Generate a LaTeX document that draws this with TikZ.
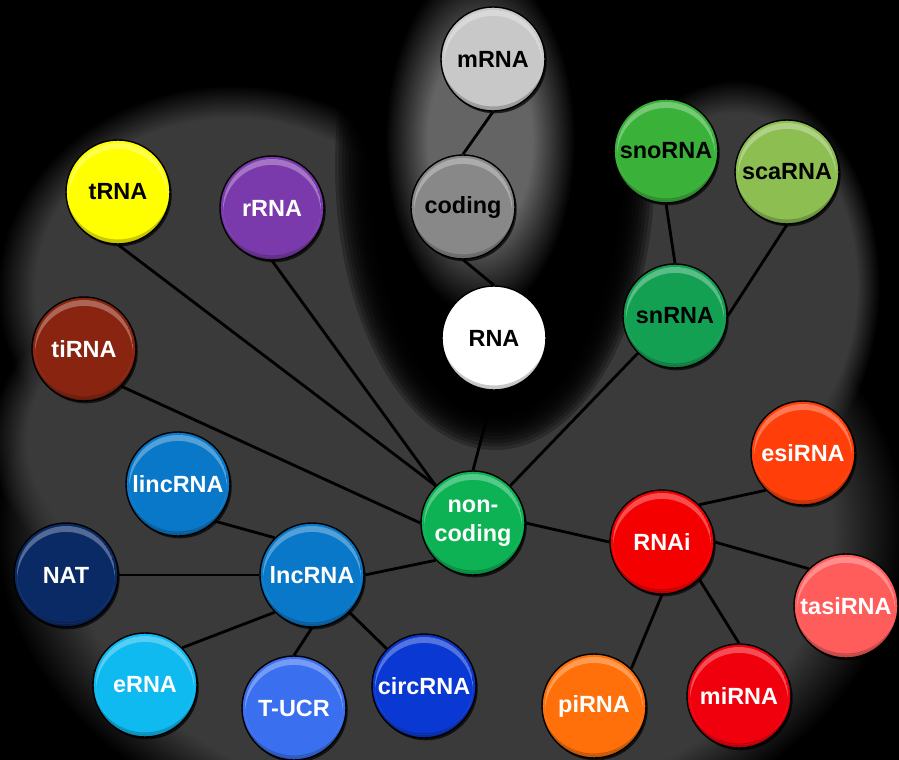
\documentclass[tikz,border=0pt]{standalone}
\usepackage{fontspec}
\setmainfont{Liberation Sans}
\usetikzlibrary{shadows,fadings,backgrounds}

% backdrop and ball colours
\definecolor{backdrop}{RGB}{58,58,58}
\definecolor{halo}{RGB}{100,100,100}
\definecolor{mrnagray}{RGB}{200,200,200}
\definecolor{codinggray}{RGB}{136,136,136}
\definecolor{snogreen}{RGB}{58,178,58}
\definecolor{scagreen}{RGB}{140,190,82}
\definecolor{sngreen}{RGB}{20,160,82}
\definecolor{ncgreen}{RGB}{12,178,84}
\definecolor{tyellow}{RGB}{255,255,0}
\definecolor{rpurple}{RGB}{122,58,172}
\definecolor{tibrown}{RGB}{136,36,16}
\definecolor{lncblue}{RGB}{10,120,200}
\definecolor{natblue}{RGB}{10,42,102}
\definecolor{eblue}{RGB}{14,186,240}
\definecolor{ucrblue}{RGB}{58,112,240}
\definecolor{circblue}{RGB}{10,56,210}
\definecolor{rnaired}{RGB}{245,0,0}
\definecolor{esiorange}{RGB}{255,62,10}
\definecolor{tasipink}{RGB}{255,92,92}
\definecolor{piorange}{RGB}{255,112,10}
\definecolor{mired}{RGB}{240,0,12}

% soft edges for the backdrop (white = opaque, black = clear)
\pgfdeclareradialshading{fuzzyshade}{\pgfpointorigin}{color(0pt)=(white); color(21pt)=(white); color(25pt)=(black); color(50pt)=(black)}
\pgfdeclarefading{fuzzy}{\pgfuseshading{fuzzyshade}}
\pgfdeclareradialshading{hazyshade}{\pgfpointorigin}{color(0pt)=(white); color(13.75pt)=(white); color(25pt)=(black); color(50pt)=(black)}
\pgfdeclarefading{hazy}{\pgfuseshading{hazyshade}}

\begin{document}
\begin{tikzpicture}[x=0.03cm,y=-0.03cm,
  ball/.style={circle,draw=black,line width=1.2pt,fill=#1,
    minimum size=3.12cm,inner sep=0pt,align=center,text=white,
    font=\fontsize{20}{25}\selectfont\bfseries,
    drop shadow={shadow xshift=1.5pt,shadow yshift=-2pt,fill=black,opacity=.7},
    path picture={
      \fill[black,opacity=.22,even odd rule]
        (path picture bounding box.center) circle (1.6cm)
        ([yshift=5pt]path picture bounding box.center) circle (1.6cm);
      \clip (path picture bounding box.center) circle (1.47cm);
      \fill[white,opacity=.3,even odd rule]
        (path picture bounding box.center) circle (1.47cm)
        ([yshift=-5pt]path picture bounding box.center) circle (1.47cm);}},
  dark/.style={text=black},
  link/.style={line width=2.4pt}]
  \useasboundingbox (0,0) rectangle (899,760);

  % coding branch
  \node[ball=mrnagray,dark] (mrna) at (493,59) {mRNA};
  \node[ball=codinggray,dark] (coding) at (463,207) {coding};
  \node[ball=white,dark] (rna) at (494,338) {RNA};
  % small nuclear
  \node[ball=snogreen,dark] (snorna) at (666,151) {snoRNA};
  \node[ball=scagreen,dark] (scarna) at (787,172) {scaRNA};
  \node[ball=sngreen,dark] (snrna) at (675,316) {snRNA};
  % left side
  \node[ball=tyellow,dark] (trna) at (118,192) {tRNA};
  \node[ball=rpurple] (rrna) at (272,208) {rRNA};
  \node[ball=tibrown] (tirna) at (84,349) {tiRNA};
  \node[ball=ncgreen] (noncod) at (473,523) {non-\\coding};
  % long non-coding
  \node[ball=lncblue] (lincrna) at (178,484) {lincRNA};
  \node[ball=natblue] (nat) at (66,575) {NAT};
  \node[ball=lncblue] (lncrna) at (312,575) {lncRNA};
  \node[ball=eblue] (erna) at (145,685) {eRNA};
  \node[ball=ucrblue] (tucr) at (294,708) {T-UCR};
  \node[ball=circblue] (circrna) at (424,686) {circRNA};
  % interference
  \node[ball=rnaired] (rnai) at (662,542) {RNAi};
  \node[ball=esiorange] (esirna) at (803,453) {esiRNA};
  \node[ball=tasipink] (tasirna) at (846,606) {tasiRNA};
  \node[ball=piorange] (pirna) at (594,706) {piRNA};
  \node[ball=mired] (mirna) at (739,696) {miRNA};

  \begin{scope}[on background layer]
    \fill[black] (0,0) rectangle (899,760);
    \fill[backdrop,path fading=fuzzy] (450,530) ellipse (455 and 330);
    \fill[backdrop,path fading=fuzzy] (232,290) ellipse (235 and 205);
    \fill[backdrop,path fading=fuzzy] (220,440) ellipse (230 and 170);
    \fill[backdrop,path fading=fuzzy] (735,285) ellipse (145 and 205);
    % this one fades out under the dark patch
    \draw[link] (rna.south) -- (noncod.north);
    \foreach \k in {0,...,11}
      \fill[black,opacity=.25] (495,165) ellipse ({160-3.5*\k} and {285-3.5*\k});
    \fill[halo,path fading=hazy] (480,140) ellipse (95 and 175);
    \foreach \a/\b in {mrna.south/coding.north, coding.south/rna.north,
        snorna.south/snrna.north, scarna.south/snrna.east,
        snrna.south west/noncod.north east, trna.south/noncod.north west,
        rrna.south/noncod.north west, tirna.south east/noncod.west,
        lincrna.south east/lncrna.north west, nat.east/lncrna.west,
        erna.north east/lncrna.south west, tucr.north/lncrna.south,
        circrna.north west/lncrna.south east, lncrna.east/noncod.south west,
        noncod.east/rnai.west, rnai.north east/esirna.south west,
        rnai.east/tasirna.north west, rnai.south/pirna.north east,
        rnai.south east/mirna.north}
      \draw[link] (\a) -- (\b);
  \end{scope}
\end{tikzpicture}
\end{document}
